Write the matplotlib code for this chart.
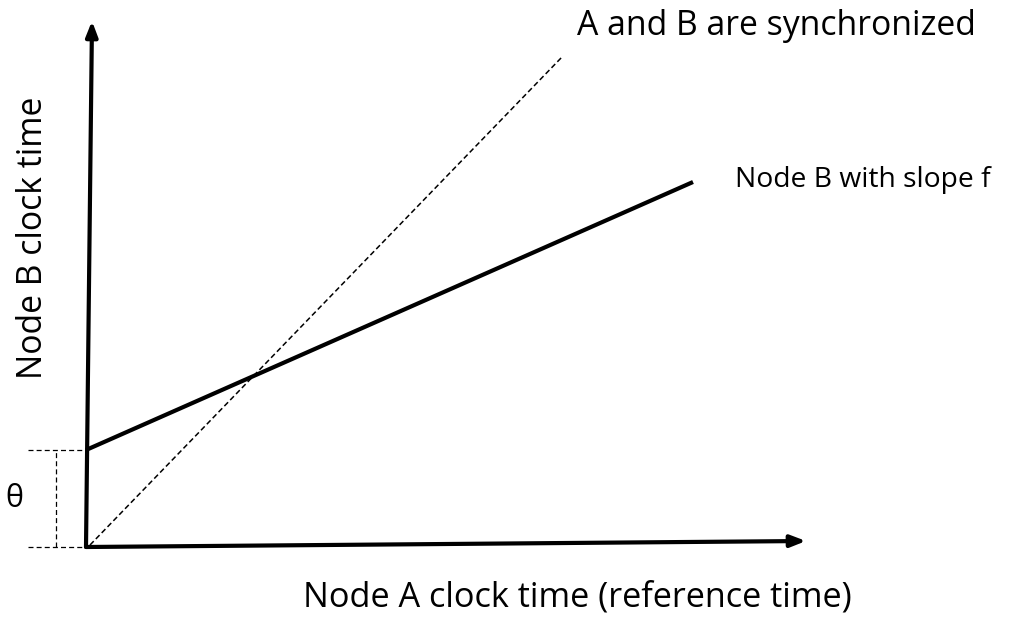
import numpy as np
import matplotlib.pyplot as plt

plt.rcParams['font.family'] = ['Open Sans', 'DejaVu Sans']

# data (in drawing units, origin at the corner of the axes)
sync_x = [4, 476]
sync_y = [2, 490]
node_b_x = [0, 607]
node_b_y = [97, 365]
theta = 97
x_axis_end = (720, 6)
y_axis_end = (6, 526)

fig = plt.figure(figsize=(10.24, 6.27), dpi=100)
ax = fig.add_axes([0, 0, 1, 1])
ax.set_xlim(-86, 1024 - 86)
ax.set_ylim(-80, 547)
ax.axis('off')

# axes with arrow heads
ax.annotate('', xy=x_axis_end, xytext=(0, 0),
            arrowprops=dict(arrowstyle='-|>,head_length=0.9,head_width=0.35', lw=3, color='black',
                            shrinkA=0, shrinkB=0))
ax.annotate('', xy=y_axis_end, xytext=(0, 0),
            arrowprops=dict(arrowstyle='-|>,head_length=0.9,head_width=0.35', lw=3, color='black',
                            shrinkA=0, shrinkB=0))

# lines
ax.plot(sync_x, sync_y, color='black', lw=1.1, ls=(0, (3.5, 2)))
ax.plot(node_b_x, node_b_y, color='black', lw=3, solid_capstyle='butt')

# theta offset marker
ax.plot([-58, 0], [theta, theta], color='black', lw=0.9, ls=(0, (4, 2.5)))
ax.plot([-58, 0], [0, 0], color='black', lw=0.9, ls=(0, (4, 2.5)))
ax.plot([-30, -30], [0, theta], color='black', lw=0.9, ls=(0, (4, 2.5)))
ax.text(-72, 48, 'θ', fontsize=22, ha='center', va='center')

# labels
ax.text(491, 521, 'A and B are synchronized', fontsize=24.3, ha='left', va='center')
ax.text(649, 367, 'Node B with slope f', fontsize=20.3, ha='left', va='center')
ax.text(491, -50, 'Node A clock time (reference time)', fontsize=24.7, ha='center', va='center')
ax.text(-53, 309, 'Node B clock time', fontsize=24.3, ha='center', va='center', rotation=90)

fig.savefig('out.png', dpi=100)
